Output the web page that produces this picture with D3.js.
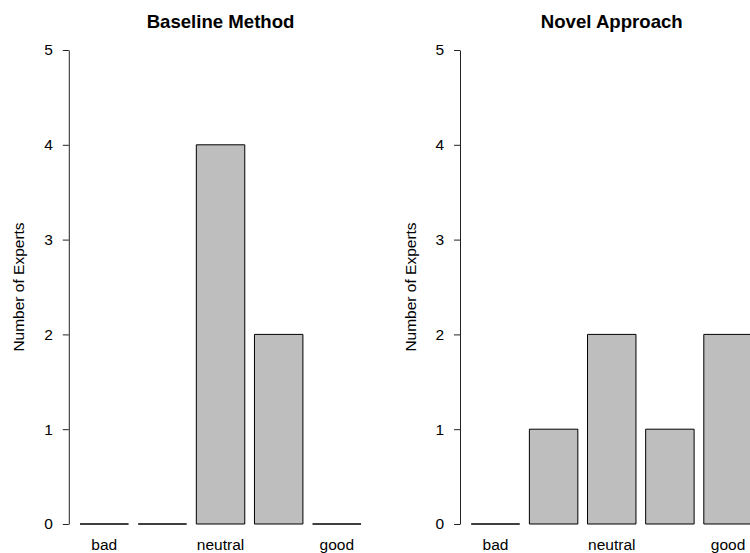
<!DOCTYPE html>
<html>
<head>
<meta charset="utf-8">
<script src="https://cdn.jsdelivr.net/npm/d3@7"></script>
<style>
  html, body { margin: 0; padding: 0; background: #fff; }
  svg { display: block; font-family: "Liberation Sans", Arial, Helvetica, sans-serif; }
</style>
</head>
<body>
<svg id="chart" width="750" height="553"></svg>
<script>
// Expert ratings on a five-point scale, one panel per method
const categories = ["bad", "rather bad", "neutral", "rather good", "good"];
const shownLabels = ["bad", "neutral", "good"];
const baselineCounts = [0, 0, 4, 2, 0];
const novelCounts = [0, 1, 2, 1, 2];
const yTicks = [0, 1, 2, 3, 4, 5];
const panelTitles = ["Baseline Method", "Novel Approach"];
const yTitle = "Number of Experts";

const svg = d3.select("#chart");

const panels = [
  { title: panelTitles[0], values: baselineCounts, left: 68.8, right: 372.3 },
  { title: panelTitles[1], values: novelCounts, left: 460, right: 763.5 }
];

const baseFont = 15.5;
const plotTop = 31, plotBottom = 543;
const y = d3.scaleLinear().domain([0, 5]).range([524, 50]);

panels.forEach(p => {
  const g = svg.append("g");

  const x = d3.scaleBand()
    .domain(categories)
    .range([p.left, p.right])
    .paddingInner(1 / 6)
    .paddingOuter(0.1933);

  // bars drawn as closed outlines so that empty categories still show a base line
  g.selectAll("path.bar")
    .data(p.values)
    .enter().append("path")
    .attr("class", "bar")
    .attr("d", (d, i) => {
      const x0 = x(categories[i]), x1 = x0 + x.bandwidth();
      const y0 = y(0), y1 = y(d);
      return `M${x0},${y0}L${x0},${y1}L${x1},${y1}L${x1},${y0}Z`;
    })
    .attr("fill", "#bebebe")
    .attr("stroke", "#000")
    .attr("stroke-width", 1);

  // y axis
  const yAxis = d3.axisLeft(y)
    .tickValues(yTicks)
    .tickFormat(d3.format("d"))
    .tickSize(6)
    .tickPadding(10)
    .tickSizeOuter(0);
  const ya = g.append("g")
    .attr("transform", `translate(${p.left},0)`)
    .call(yAxis);
  ya.select(".domain").attr("stroke", "#222");
  ya.selectAll(".tick line").attr("stroke", "#222");
  ya.selectAll(".tick text")
    .attr("font-size", baseFont)
    .attr("fill", "#000");

  // category labels under the bars
  g.selectAll("text.cat")
    .data(categories.filter(c => shownLabels.includes(c)))
    .enter().append("text")
    .attr("class", "cat")
    .attr("x", c => x(c) + x.bandwidth() / 2)
    .attr("y", 549.5)
    .attr("text-anchor", "middle")
    .attr("font-size", baseFont)
    .attr("fill", "#000")
    .text(c => c);

  // panel title
  g.append("text")
    .attr("x", (p.left + p.right) / 2)
    .attr("y", 28)
    .attr("text-anchor", "middle")
    .attr("font-size", baseFont * 1.2)
    .attr("font-weight", "bold")
    .attr("fill", "#000")
    .text(p.title);

  // y axis title
  const cy = (plotTop + plotBottom) / 2;
  const cx = p.left - 50;
  g.append("text")
    .attr("transform", `translate(${cx + 5.5},${cy}) rotate(-90)`)
    .attr("text-anchor", "middle")
    .attr("font-size", baseFont)
    .attr("fill", "#000")
    .text(yTitle);
});
</script>
</body>
</html>
